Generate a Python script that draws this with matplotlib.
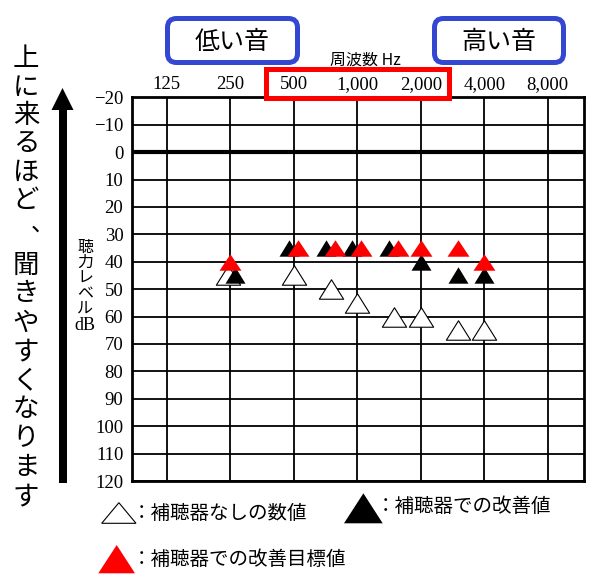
import numpy as np
import matplotlib
matplotlib.use('Agg')
import matplotlib.pyplot as plt
import matplotlib.transforms as mtransforms
from matplotlib.path import Path
from matplotlib.patches import FancyBboxPatch, Rectangle, Polygon
from matplotlib.ticker import NullLocator

# audiogram axes
freqs = [125, 250, 500, 1000, 2000, 4000, 8000]
freq_labels = ['125', '250', '500', '1,000', '2,000', '4,000', '8,000']
db_ticks = list(range(-20, 121, 10))
db_labels = [('\u2212' + str(-d)) if d < 0 else str(d) for d in db_ticks]

# measured values (dB HL)
test_freqs = [250, 500, 750, 1000, 1500, 2000, 3000, 4000]
no_aid = [45, 45, 50, 55, 60, 60, 65, 65]      # white
with_aid = [45, 35, 35, 35, 35, 40, 45, 45]    # black
target = [40, 35, 35, 35, 35, 35, 35, 40]      # red

side_text = '上に来るほど、聞きやすくなります'
ylab_chars = ['聴', '力', 'レ', 'ベ', 'ル']

JP = ['Noto Sans CJK JP', 'DejaVu Sans']
SERIF = 'Liberation Serif'
BLUE = '#3347d1'
RED = '#ff0000'


def tri(ratio):
    verts = [(-1, -ratio), (1, -ratio), (0, ratio), (-1, -ratio)]
    codes = [Path.MOVETO, Path.LINETO, Path.LINETO, Path.CLOSEPOLY]
    return Path(verts, codes)


fig = plt.figure(figsize=(6, 5.82), dpi=100)

L, R, T, B = 131.7, 584, 97.3, 481
ax = fig.add_axes([L / 600, 1 - B / 582, (R - L) / 600, (B - T) / 582])
ax.set_xscale('log', base=2)
ax.set_xlim(85.3, 11890)
ax.set_ylim(120, -20)
ax.xaxis.tick_top()
ax.set_xticks(freqs, freq_labels)
ax.xaxis.set_minor_locator(NullLocator())
ax.set_yticks(db_ticks, db_labels)
ax.tick_params(axis='x', length=0, pad=3, labelsize=13.5)
ax.tick_params(axis='y', length=0, pad=6, labelsize=13.5)
for lab in ax.get_xticklabels() + ax.get_yticklabels():
    lab.set_fontfamily(SERIF)
ax.grid(True, color='black', lw=1.3)
ax.axhline(0, color='black', lw=3)
for s in ax.spines.values():
    s.set_linewidth(2)

f = np.array(test_freqs)
n = np.array(no_aid)
w = np.array(with_aid)
t = np.array(target)
close = np.abs(w - t) < 5        # black hidden behind red: spread them
same = w == n                    # black on top of white: spread them


def shifted(dx):
    return mtransforms.offset_copy(ax.transData, fig=fig, x=dx, y=0, units='dots')


white_kw = dict(ls='none', marker=tri(0.8), ms=17.5, mfc='white', mec='black',
                mew=0.8, zorder=3, clip_on=False)
black_kw = dict(ls='none', marker=tri(0.82), ms=14.4, color='black', mew=0, zorder=4)
red_kw = dict(ls='none', marker=tri(0.75), ms=15.8, color=RED, mew=0, zorder=5)

ax.plot(f[same], n[same], transform=shifted(-2), **white_kw)
ax.plot(f[~same], n[~same], **white_kw)
ax.plot(f[close], w[close], transform=shifted(-5), **black_kw)
ax.plot(f[same], w[same], transform=shifted(5), **black_kw)
ax.plot(f[~close & ~same], w[~close & ~same], **black_kw)
ax.plot(f[close], t[close], transform=shifted(4), **red_kw)
ax.plot(f[~close], t[~close], **red_kw)

# overlay in pixel coordinates for the annotations
ov = fig.add_axes([0, 0, 1, 1])
ov.set_xlim(0, 600)
ov.set_ylim(582, 0)
ov.axis('off')
ov.set_zorder(5)
ov.patch.set_visible(False)

ov.text(365, 60, '周波数 Hz', family=JP, fontsize=11.5, ha='center', va='center')

for x0, x1, label in [(167.5, 297.5, '低い音'), (434.5, 563.5, '高い音')]:
    ov.add_patch(FancyBboxPatch((x0, 18.5), x1 - x0, 44,
                                boxstyle='round,pad=0,rounding_size=9',
                                fc='white', ec=BLUE, lw=3.6))
    ov.text((x0 + x1) / 2, 42, label, family=JP, fontsize=18,
            ha='center', va='center')

ov.add_patch(Rectangle((265.8, 69.2), 183.4, 28.3, fill=False, ec=RED, lw=3.6))

# big arrow
ov.add_patch(Rectangle((58.5, 108), 8, 375, color='black', lw=0))
ov.add_patch(Polygon([(51.5, 110), (73.5, 110), (62.5, 88)], closed=True,
                     color='black', lw=0))

# left caption, written vertically
ys = list(59 + 28.3 * np.arange(6)) + [None] + list(265 + 29 * np.arange(9))
for ch, y in zip(side_text, ys):
    if ch == '、':
        ov.text(43, 224, ch, family=JP, fontsize=17, ha='center', va='center')
    else:
        ov.text(26, y, ch, family=JP, fontsize=19, ha='center', va='center')

# y label
for i, ch in enumerate(ylab_chars):
    ov.text(85, 247 + 15.6 * i, ch, family=JP, fontsize=11.5, ha='center', va='center')
ov.text(85, 326, 'dB', family=SERIF, fontsize=13, ha='center', va='center')

# legend
ov.add_patch(Polygon([(101.7, 523.3), (136, 523.3), (118.9, 502.7)], closed=True,
                     fc='white', ec='black', lw=0.8))
ov.text(132, 513.5, '：補聴器なしの数値', family=JP, fontsize=14, ha='left', va='center')
ov.add_patch(Polygon([(344, 523.3), (382.7, 523.3), (363.4, 493.3)], closed=True,
                     color='black', lw=0))
ov.text(375.3, 507, '：補聴器での改善値', family=JP, fontsize=14, ha='left', va='center')
ov.add_patch(Polygon([(98.3, 573.3), (135, 573.3), (116.7, 545)], closed=True,
                     color=RED, lw=0))
ov.text(132, 559.5, '：補聴器での改善目標値', family=JP, fontsize=14, ha='left', va='center')

fig.savefig('out.png', dpi=100)
